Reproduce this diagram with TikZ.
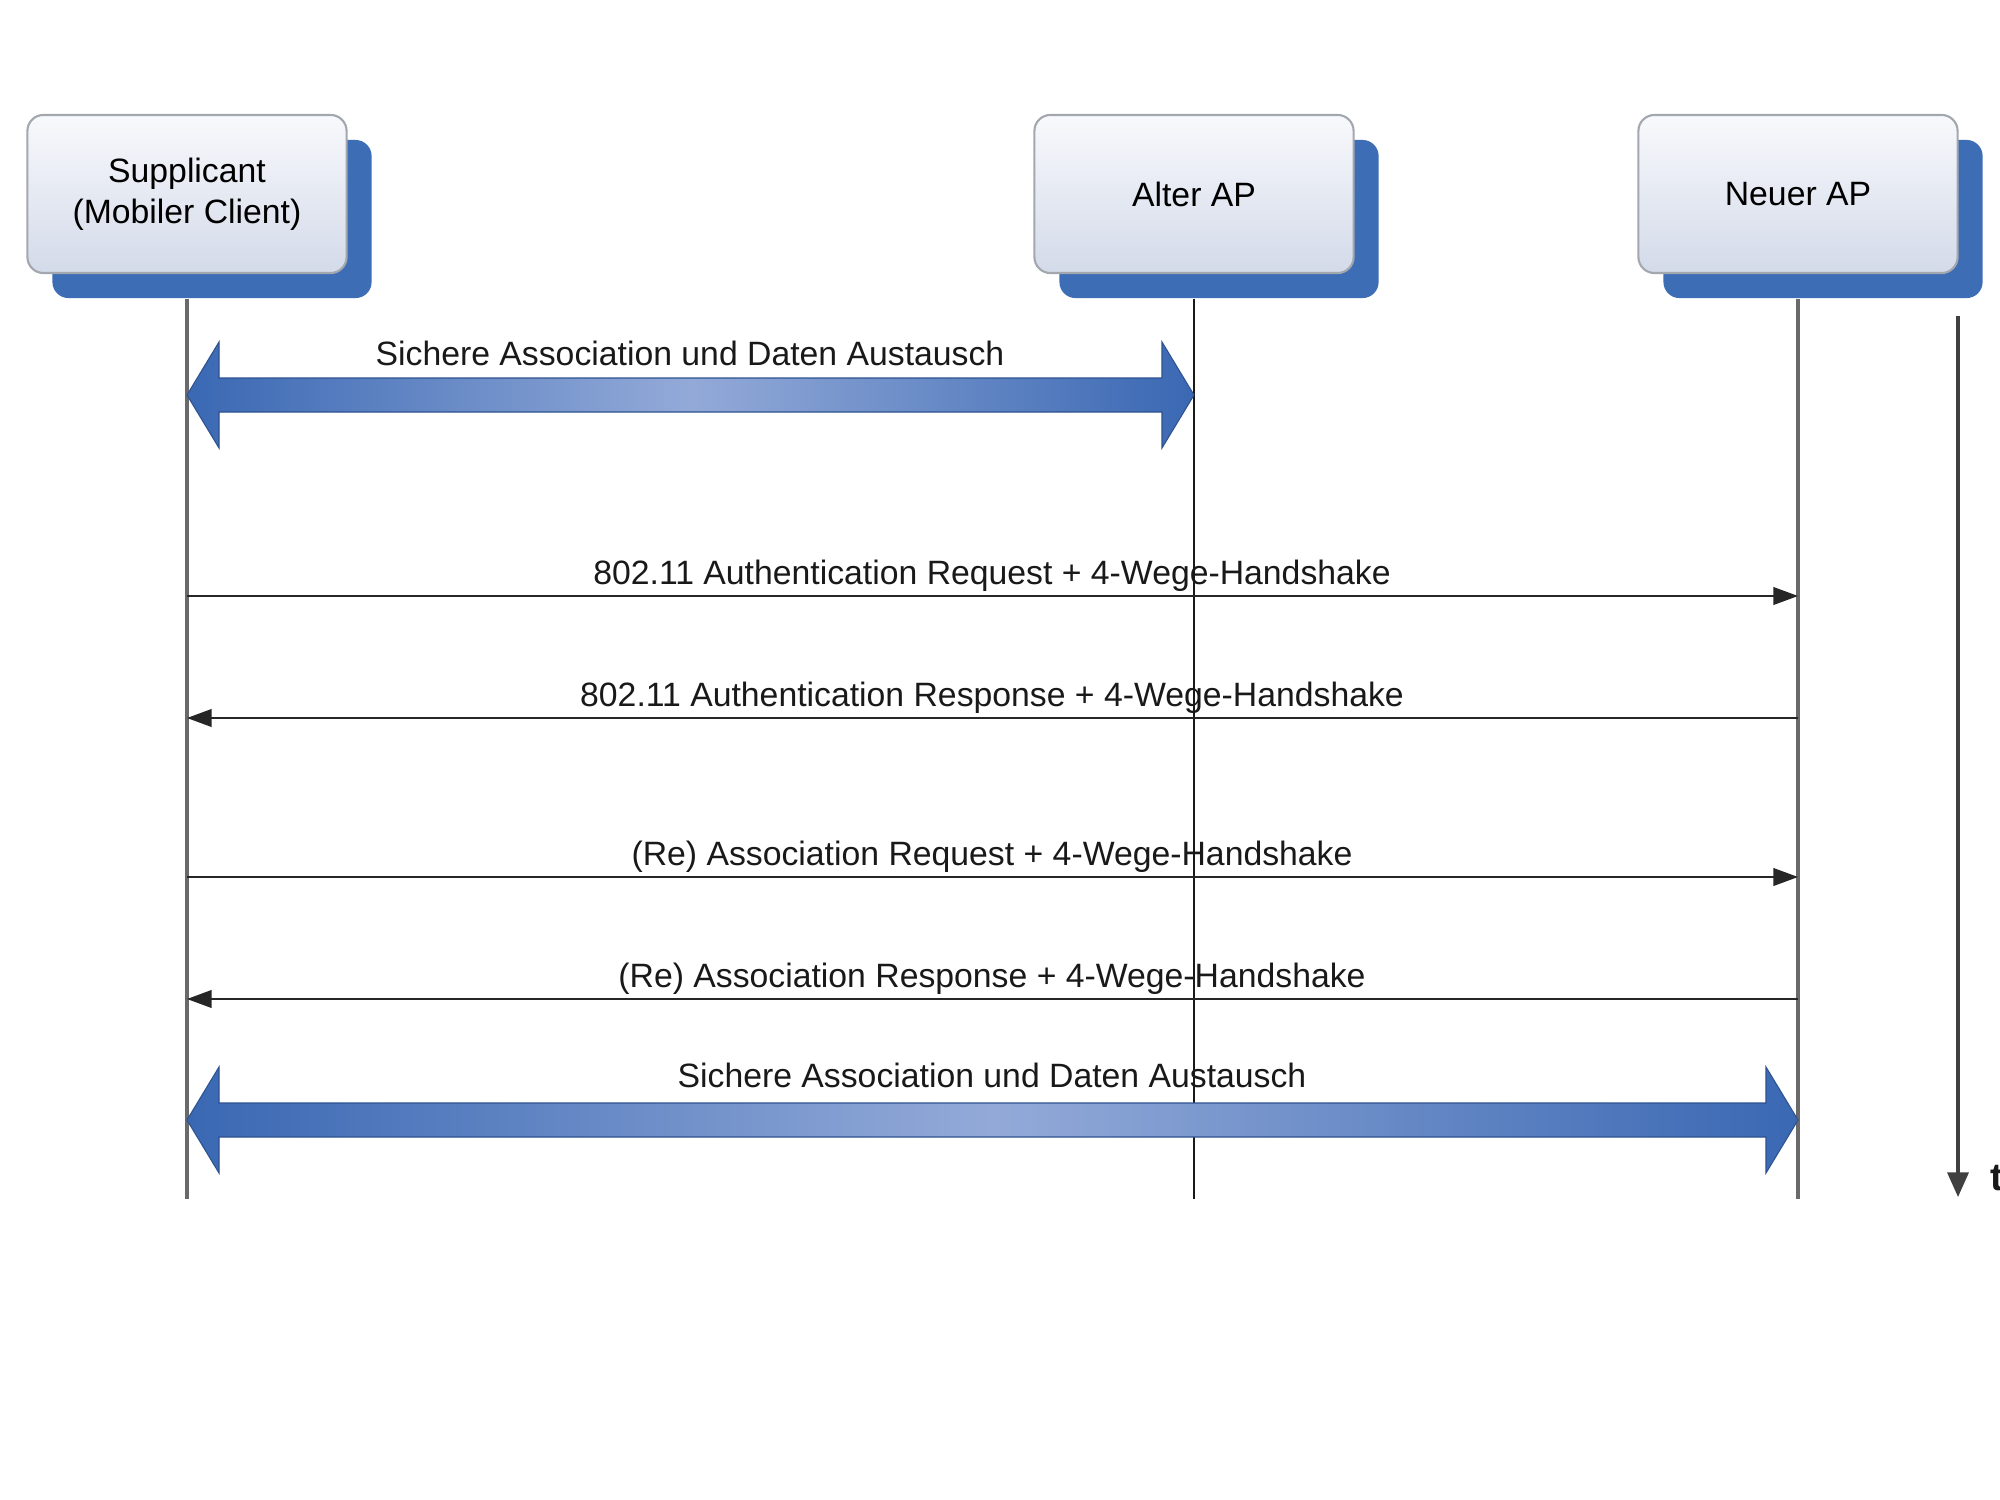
\documentclass[tikz,border=0pt]{standalone}
\usepackage{fontspec}
\setmainfont{Liberation Sans}
\usetikzlibrary{shadows,arrows.meta}
\definecolor{shadowblue}{HTML}{3D6DB5}
\definecolor{boxtop}{HTML}{F8F9FC}
\definecolor{boxbot}{HTML}{D3DAE9}
\definecolor{boxline}{HTML}{A3A7AE}
\definecolor{fatdark}{HTML}{3A68B3}
\definecolor{fatlight}{HTML}{93AAD8}
\definecolor{fatedge}{HTML}{2D5290}
\definecolor{lifegray}{HTML}{6A6A6A}
\newcommand\fatarr[2]{%
  \path[fat] (#1) -- ([shift={(32,-53)}]#1) -- ([shift={(32,-17)}]#1)
    -- ([shift={(-32,-17)}]#2) -- ([shift={(-32,-53)}]#2) -- (#2)
    -- ([shift={(-32,53)}]#2) -- ([shift={(-32,17)}]#2)
    -- ([shift={(32,17)}]#1) -- ([shift={(32,53)}]#1) -- cycle;}
\begin{document}
\begin{tikzpicture}[x=0.01cm,y=-0.01cm,
  entity/.style={draw=boxline, line width=0.6pt, rounded corners=0.16cm,
    top color=boxtop, bottom color=boxbot, minimum width=3.19cm,
    minimum height=1.58cm, align=center, text=black,
    font=\fontsize{9.6}{11.6}\selectfont,
    general shadow={fill=shadowblue, shadow xshift=0.25cm, shadow yshift=-0.25cm}},
  life/.style={draw=lifegray, line width=0.9pt},
  lifedark/.style={draw=black!90, line width=0.6pt},
  msg/.style={draw=black!85, line width=0.6pt, -{Triangle[length=7pt,width=5pt]}},
  lbl/.style={font=\fontsize{9.6}{11.6}\selectfont, inner sep=0pt, anchor=base, text=black!90},
  fat/.style={left color=fatdark, right color=fatdark, middle color=fatlight,
    draw=fatedge, line width=0.3pt}
]
\useasboundingbox[fill=white] (0,0) rectangle (2000,1500);

% entities
\node[entity] (sup) at (187,194) {Supplicant\\(Mobiler Client)};
\node[entity] (alt) at (1194,194) {Alter AP};
\node[entity] (neu) at (1798,194) {Neuer AP};

% lifelines
\draw[life] ([yshift=-0.25cm]sup.south) -- (sup |- 0,1199);
\draw[lifedark] ([yshift=-0.25cm]alt.south) -- (alt |- 0,1199);
\draw[life] ([yshift=-0.25cm]neu.south) -- (neu |- 0,1199);

% time axis
\coordinate (t0) at (1958,316);
\coordinate (t1) at (1958,1197);
\draw[draw=black!75, line width=0.9pt, -{Triangle[length=7pt,width=6pt]}] (t0) -- (t1);
\node[lbl, anchor=base west, font=\fontsize{11}{13}\selectfont\bfseries] (tl) at (1990,1190) {t};

% first fat arrow
\coordinate (f1l) at (sup |- 0,395);
\coordinate (f1r) at (alt |- 0,395);
\fatarr{f1l}{f1r}
\node[lbl] (lf1) at (690,365) {Sichere Association und Daten Austausch};

% messages
\draw[msg] (sup |- 0,596) -- (neu |- 0,596);
\node[lbl] (l1) at (992,584) {802.11 Authentication Request + 4-Wege-Handshake};
\draw[msg] (neu |- 0,718) -- (sup |- 0,718);
\node[lbl] (l2) at (992,706) {802.11 Authentication Response + 4-Wege-Handshake};
\draw[msg] (sup |- 0,877) -- (neu |- 0,877);
\node[lbl] (l3) at (992,865) {(Re) Association Request + 4-Wege-Handshake};
\draw[msg] (neu |- 0,999) -- (sup |- 0,999);
\node[lbl] (l4) at (992,987) {(Re) Association Response + 4-Wege-Handshake};

% second fat arrow
\coordinate (f2l) at (sup |- 0,1120);
\coordinate (f2r) at (neu |- 0,1120);
\fatarr{f2l}{f2r}
\node[lbl] (lf2) at (992,1087) {Sichere Association und Daten Austausch};
\end{tikzpicture}
\end{document}
